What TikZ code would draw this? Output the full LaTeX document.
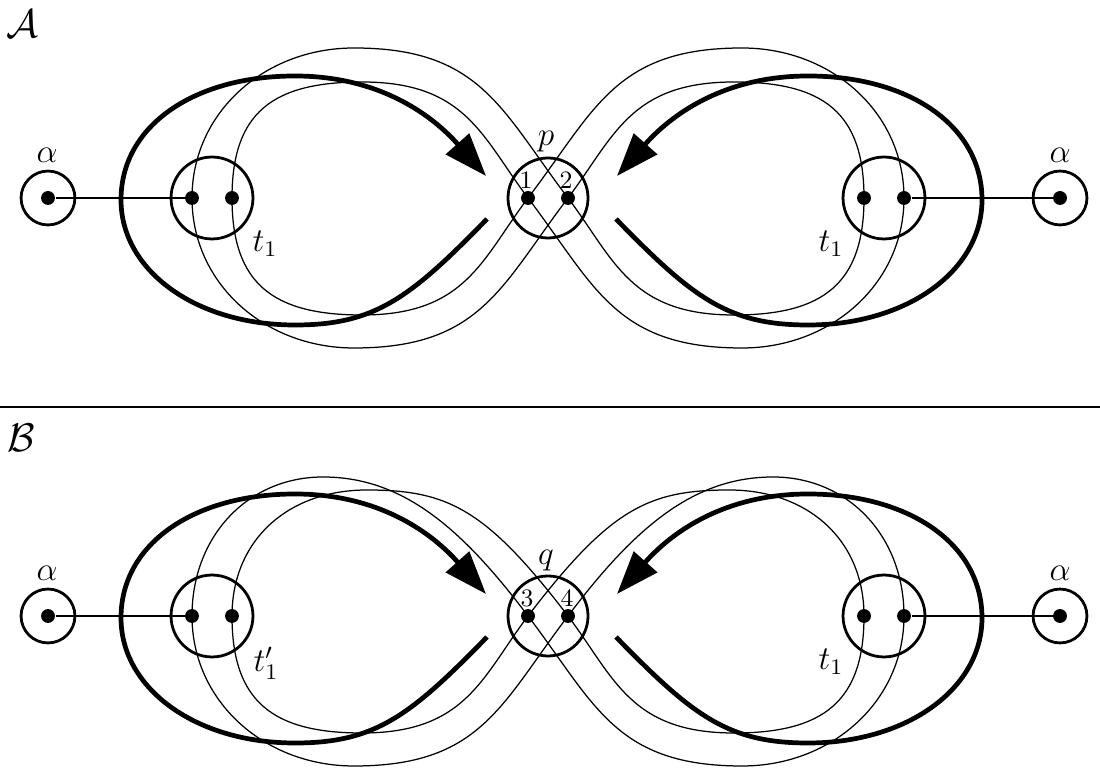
\documentclass[tikz,border=0pt]{standalone}
\usetikzlibrary{arrows.meta}
\begin{document}
\begin{tikzpicture}[x=0.36pt,y=-0.36pt,
  fine/.style={line width=0.45pt},
  heavy/.style={line width=1.7pt,-{Triangle[length=15.5pt,width=11pt]}},
  ring/.style={circle,draw,line width=1pt,inner sep=0pt},
  smallring/.style={ring,minimum size=19.4pt},
  bigring/.style={ring,minimum size=29.5pt},
  midring/.style={ring,minimum size=28.8pt},
  dot/.style={circle,fill,inner sep=0pt,minimum size=5pt},
  lbl/.style={inner sep=0pt,font=\large},
  cal/.style={inner sep=0pt,font=\Large},
  num/.style={inner sep=0pt,font=\small}]
\useasboundingbox (0,0) rectangle (1100,770);

% separator
\coordinate (sepL) at (0,407);
\coordinate (sepR) at (1100,407);
\draw[fine] (sepL) -- (sepR);

\node[cal] (calA) at (22,24) {$\mathcal{A}$};
\node[cal] (calB) at (21,438) {$\mathcal{B}$};

\foreach \r/\s in {198/A,616/B}{
  \node[smallring] (al\s) at (48,\r) {};
  \node[smallring] (ar\s) at (1060,\r) {};
  \node[bigring] (tl\s) at (212,\r) {};
  \node[bigring] (tr\s) at (884,\r) {};
  \node[midring] (m\s) at (548,\r) {};
  \node[dot] (dal\s) at (48,\r) {};
  \node[dot] (dar\s) at (1060,\r) {};
  \node[dot] (lo\s) at (192,\r) {};
  \node[dot] (li\s) at (232,\r) {};
  \node[dot] (x\s) at (528,\r) {};
  \node[dot] (y\s) at (568,\r) {};
  \node[dot] (ri\s) at (864,\r) {};
  \node[dot] (ro\s) at (904,\r) {};
  \draw[fine] (dal\s) -- (lo\s);
  \draw[fine] (ro\s) -- (dar\s);
  \node[lbl] (alab\s) at (47,{\r-43}) {$\alpha$};
  \node[lbl] (arlab\s) at (1060,{\r-43}) {$\alpha$};
  \node[lbl] (trlab\s) at (831,{\r+46}) {$t_1$};
  \begin{scope}[shift={(0,\r-198)}]
    \coordinate (eL\s) at (487,219);
    \coordinate (hL\s) at (486,176);
    \coordinate (eR\s) at (616,219);
    \coordinate (hR\s) at (617,176);
    \draw[heavy] (eL\s) .. controls (410,298) and (375,325) .. (295,325)
      .. controls (195,325) and (121,270) .. (121,200)
      .. controls (121,125) and (195,76) .. (295,76)
      .. controls (395,76) and (446,131) .. (hL\s);
    \draw[heavy] (eR\s) .. controls (693,298) and (728,325) .. (808,325)
      .. controls (908,325) and (982,270) .. (982,200)
      .. controls (982,125) and (908,76) .. (808,76)
      .. controls (708,76) and (657,131) .. (hR\s);
  \end{scope}
}

\node[lbl] (tlabA) at (265,244) {$t_1$};
\node[lbl] (tlabB) at (266,663) {$t'_1$};
\node[lbl] (pA) at (546,142) {$p$};
\node[lbl] (qB) at (546,561) {$q$};
\node[num] (n1) at (526,180) {1};
\node[num] (n2) at (566,180) {2};
\node[num] (n3) at (527,598) {3};
\node[num] (n4) at (567,598) {4};

% panel A thin curves
\draw[fine] (xA.center) .. controls (482,137) and (466,82) .. (362,82)
  .. controls (272,82) and (232,113) .. (liA.center)
  .. controls (232,283) and (272,315) .. (362,315)
  .. controls (466,315) and (482,259) .. (xA.center);
\draw[fine] (yA.center) .. controls (501,110) and (481,48) .. (354,48)
  .. controls (264,48) and (192,113) .. (loA.center)
  .. controls (192,283) and (264,348) .. (354,348)
  .. controls (481,348) and (501,286) .. (yA.center);
\draw[fine] (yA.center) .. controls (614,137) and (630,82) .. (734,82)
  .. controls (824,82) and (864,113) .. (riA.center)
  .. controls (864,283) and (824,315) .. (734,315)
  .. controls (630,315) and (614,259) .. (yA.center);
\draw[fine] (xA.center) .. controls (595,110) and (615,48) .. (742,48)
  .. controls (832,48) and (904,113) .. (roA.center)
  .. controls (904,283) and (832,348) .. (742,348)
  .. controls (615,348) and (595,286) .. (xA.center);

% panel B thin curves
\draw[fine] (xB.center) .. controls (461,527) and (402,477) .. (323,477)
  .. controls (248,477) and (192,536) .. (loB.center)
  .. controls (192,701) and (264,766) .. (354,766)
  .. controls (481,766) and (501,704) .. (yB.center);
\draw[fine] (yB.center) .. controls (486,509) and (448,490) .. (367,490)
  .. controls (287,490) and (232,541) .. (liB.center)
  .. controls (232,701) and (272,733) .. (362,733)
  .. controls (466,733) and (482,677) .. (xB.center);
\draw[fine] (yB.center) .. controls (635,527) and (694,477) .. (773,477)
  .. controls (848,477) and (904,536) .. (roB.center)
  .. controls (904,701) and (832,766) .. (742,766)
  .. controls (615,766) and (595,704) .. (xB.center);
\draw[fine] (xB.center) .. controls (610,509) and (648,490) .. (729,490)
  .. controls (809,490) and (864,541) .. (riB.center)
  .. controls (864,701) and (824,733) .. (734,733)
  .. controls (630,733) and (614,677) .. (yB.center);
\end{tikzpicture}
\end{document}
